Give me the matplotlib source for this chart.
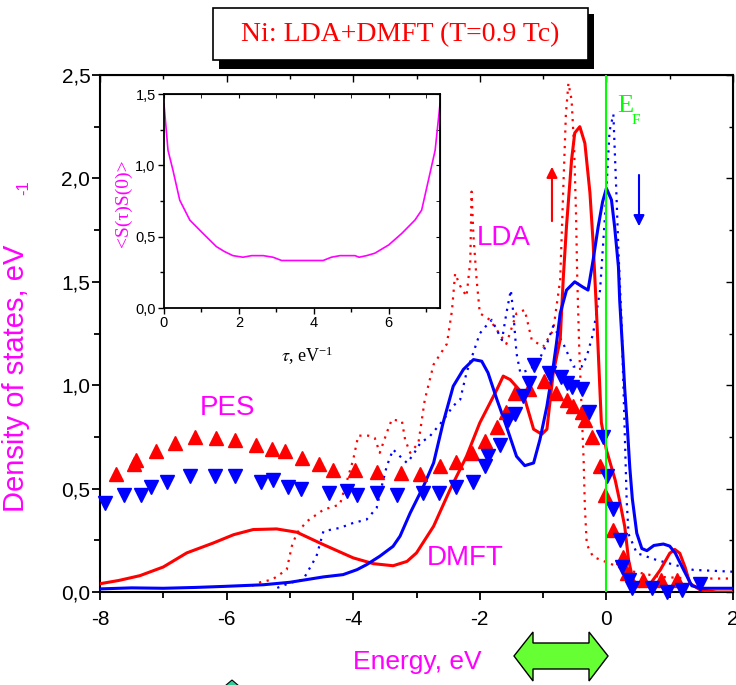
import matplotlib.pyplot as plt
from matplotlib.patches import Rectangle, Polygon
from matplotlib.ticker import MultipleLocator, FuncFormatter

# ---- data ----
# PES, spin up (red up-triangles)
pes_up_E = [-7.75, -7.47, -7.43, -7.12, -6.82, -6.50, -6.16, -5.87, -5.53, -5.29,
            -5.08, -4.81, -4.54, -4.32, -3.97, -3.62, -3.25, -2.95, -2.63, -2.38,
            -2.13, -1.92, -1.73, -1.59, -1.44, -1.23, -0.99, -0.79, -0.63, -0.52,
            -0.38, -0.34, -0.23, -0.10, -0.02, 0.10, 0.26, 0.32, 0.58, 0.86, 1.11]
pes_up = [0.57, 0.62, 0.64, 0.68, 0.72, 0.75, 0.745, 0.735, 0.71, 0.69,
          0.68, 0.65, 0.62, 0.59, 0.59, 0.58, 0.575, 0.57, 0.61, 0.63,
          0.67, 0.73, 0.80, 0.87, 0.96, 0.98, 1.02, 0.96, 0.93, 0.90,
          0.87, 0.83, 0.75, 0.61, 0.47, 0.30, 0.17, 0.09, 0.06, 0.06, 0.06]

# PES, spin down (blue down-triangles)
pes_dn_E = [-7.92, -7.62, -7.35, -7.20, -6.94, -6.58, -6.18, -5.87, -5.45, -5.27,
            -5.03, -4.82, -4.39, -4.10, -3.94, -3.62, -3.31, -2.89, -2.64, -2.38,
            -2.11, -1.92, -1.87, -1.68, -1.55, -1.44, -1.31, -1.23, -1.15, -0.90,
            -0.72, -0.63, -0.55, -0.38, -0.27, -0.06, 0.01, 0.10, 0.21, 0.24,
            0.35, 0.40, 0.72, 0.95, 1.20, 1.48]
pes_dn = [0.43, 0.47, 0.47, 0.51, 0.53, 0.56, 0.56, 0.56, 0.53, 0.54,
          0.51, 0.50, 0.48, 0.49, 0.47, 0.48, 0.47, 0.48, 0.48, 0.51,
          0.53, 0.61, 0.66, 0.71, 0.83, 0.86, 0.95, 1.01, 1.10, 1.06,
          1.04, 1.01, 0.99, 0.98, 0.87, 0.75, 0.56, 0.40, 0.25, 0.12,
          0.06, 0.02, 0.02, 0.00, 0.01, 0.04]

# LDA+DMFT, spin up (red solid)
dmft_up_E = [-8.0, -7.7, -7.37, -7.0, -6.63, -6.21, -5.89, -5.58, -5.21, -4.89,
             -4.47, -4.0, -3.68, -3.37, -3.15, -3.0, -2.73, -2.47, -2.21, -2.0,
             -1.73, -1.63, -1.52, -1.31, -1.15, -1.02, -0.94, -0.84, -0.73, -0.68,
             -0.63, -0.55, -0.50, -0.42, -0.34, -0.26, -0.21, -0.16, -0.12, -0.08,
             0.0, 0.14, 0.21, 0.29, 0.35, 0.42, 0.52, 0.68, 0.85, 1.0,
             1.08, 1.16, 1.24, 1.32, 1.48, 1.74, 2.0]
dmft_up = [0.04, 0.056, 0.079, 0.121, 0.189, 0.237, 0.277, 0.302, 0.305, 0.289,
           0.229, 0.165, 0.137, 0.127, 0.148, 0.189, 0.318, 0.495, 0.656, 0.818,
           0.979, 1.044, 1.027, 0.955, 0.787, 0.763, 0.787, 1.06, 1.22, 1.525,
           1.77, 2.09, 2.22, 2.25, 2.17, 1.93, 1.69, 1.38, 1.10, 0.82,
           0.687, 0.54, 0.44, 0.316, 0.155, 0.058, 0.026, 0.034, 0.106, 0.187,
           0.206, 0.187, 0.122, 0.042, 0.01, 0.0, 0.0]

# LDA+DMFT, spin down (blue solid)
dmft_dn_E = [-8.0, -7.5, -7.0, -6.5, -6.05, -5.42, -5.0, -4.47, -4.16, -3.94,
             -3.79, -3.58, -3.37, -3.26, -3.10, -2.89, -2.73, -2.58, -2.42, -2.26,
             -2.10, -1.97, -1.87, -1.73, -1.58, -1.42, -1.29, -1.15, -1.05, -0.94,
             -0.84, -0.79, -0.73, -0.63, -0.50, -0.38, -0.29, -0.21, -0.13, -0.06,
             0.0, 0.08, 0.13, 0.19, 0.21, 0.26, 0.29, 0.33, 0.37, 0.41,
             0.48, 0.56, 0.64, 0.75, 0.90, 1.0, 1.09, 1.22, 1.35, 1.5, 2.0]
dmft_dn = [0.015, 0.02, 0.018, 0.022, 0.027, 0.035, 0.047, 0.073, 0.084, 0.108,
           0.132, 0.173, 0.221, 0.27, 0.382, 0.511, 0.624, 0.818, 0.995, 1.076,
           1.124, 1.116, 1.06, 0.931, 0.802, 0.656, 0.611, 0.624, 0.737, 0.898,
           1.09, 1.20, 1.348, 1.46, 1.50, 1.476, 1.46, 1.605, 1.766, 1.887,
           1.952, 1.896, 1.766, 1.573, 1.41, 1.15, 0.98, 0.80, 0.60, 0.45,
           0.284, 0.21, 0.20, 0.225, 0.232, 0.222, 0.187, 0.107, 0.03, 0.018, 0.018]

# LDA, spin up (red dotted)
lda_up_E = [-5.6, -5.47, -5.28, -5.05, -4.97, -4.89, -4.73, -4.47, -4.21, -4.0,
            -3.92, -3.76, -3.66, -3.58, -3.47, -3.39, -3.23, -3.18, -3.10, -2.97,
            -2.87, -2.73, -2.52, -2.44, -2.39, -2.31, -2.21, -2.15, -2.13, -2.10,
            -2.05, -2.0, -1.84, -1.58, -1.42, -1.29, -1.18, -1.0, -0.84, -0.73,
            -0.68, -0.64, -0.60, -0.55, -0.51, -0.48, -0.46, -0.43, -0.40, -0.36,
            -0.34, -0.31, -0.21, 0.06, 0.32, 0.85, 1.37, 2.0]
lda_up = [0.03, 0.047, 0.06, 0.108, 0.221, 0.285, 0.342, 0.398, 0.423, 0.64,
          0.756, 0.756, 0.745, 0.673, 0.77, 0.834, 0.826, 0.737, 0.673, 0.72,
          0.928, 1.10, 1.20, 1.36, 1.54, 1.48, 1.43, 1.60, 1.936, 1.72,
          1.51, 1.348, 1.316, 1.20, 1.348, 1.364, 1.22, 1.186, 1.266, 1.51,
          1.96, 2.31, 2.46, 2.38, 2.15, 1.83, 1.51, 1.186, 0.95, 0.64,
          0.41, 0.23, 0.17, 0.137, 0.105, 0.073, 0.065, 0.065]

# LDA, spin down (blue dotted)
lda_dn_E = [-5.2, -5.0, -4.79, -4.58, -4.47, -4.21, -4.0, -3.79, -3.63, -3.55,
            -3.47, -3.37, -3.26, -3.15, -3.05, -2.94, -2.79, -2.58, -2.42, -2.31,
            -2.21, -2.0, -1.92, -1.81, -1.73, -1.65, -1.58, -1.51, -1.47, -1.42,
            -1.36, -1.26, -1.10, -0.94, -0.84, -0.68, -0.52, -0.39, -0.31, -0.21,
            -0.10, -0.02, 0.05, 0.11, 0.14, 0.16, 0.19, 0.24, 0.26, 0.29,
            0.32, 0.35, 0.48, 0.79, 1.37, 2.0]
lda_dn = [0.02, 0.044, 0.06, 0.173, 0.294, 0.31, 0.334, 0.35, 0.406, 0.511,
          0.608, 0.689, 0.656, 0.624, 0.665, 0.72, 0.753, 0.83, 0.90, 0.93,
          1.06, 1.25, 1.28, 1.316, 1.266, 1.218, 1.348, 1.46, 1.348, 1.154,
          1.06, 1.07, 1.10, 1.20, 1.286, 1.20, 1.09, 1.09, 1.14, 1.25,
          1.46, 1.83, 2.23, 2.31, 2.07, 1.91, 1.65, 1.30, 1.09, 0.77,
          0.445, 0.28, 0.188, 0.155, 0.107, 0.098]

# inset: spin correlation <S(tau)S(0)>
tau = [0.0, 0.107, 0.24, 0.42, 0.69, 1.04, 1.40, 1.62, 1.84, 2.11, 2.34, 2.65,
       2.91, 3.14, 4.25, 4.47, 4.70, 5.10, 5.21, 5.41, 5.63, 6.0, 6.35, 6.70,
       6.88, 7.06, 7.24, 7.37]
corr = [1.43, 1.105, 0.965, 0.756, 0.616, 0.523, 0.43, 0.395, 0.367, 0.356, 0.367, 0.367,
        0.356, 0.333, 0.333, 0.356, 0.367, 0.367, 0.356, 0.367, 0.384, 0.442, 0.523, 0.616,
        0.686, 0.895, 1.105, 1.43]

SERIF = ['Liberation Serif', 'DejaVu Serif']
plt.rcParams['font.family'] = ['Liberation Sans', 'DejaVu Sans']
plt.rcParams['axes.unicode_minus'] = False
plt.rcParams['mathtext.fontset'] = 'stix'

W, H = 736, 685


def fpx(x, y):
    # figure pixel (from top-left) -> figure fraction
    return (x / W, 1 - y / H)


comma = FuncFormatter(lambda v, p: f'{v:.1f}'.replace('.', ','))
plain = FuncFormatter(lambda v, p: f'{v:g}')

fig = plt.figure(figsize=(7.36, 6.85), dpi=100)

# ---- main axes ----
ax = fig.add_axes([100 / W, 1 - 592 / H, 633 / W, 517 / H])
ax.set_xlim(-8, 2)
ax.set_ylim(0, 2.5)

ax.plot(lda_up_E, lda_up, color='red', lw=1.6, ls=(0, (1, 2.5)), zorder=2)
ax.plot(lda_dn_E, lda_dn, color='blue', lw=1.6, ls=(0, (1, 2.5)), zorder=2)
ax.plot(dmft_up_E, dmft_up, color='red', lw=2.2, zorder=3)
ax.plot(dmft_dn_E, dmft_dn, color='blue', lw=2.2, zorder=3)
ax.plot(pes_up_E, pes_up, ls='none', marker='^', ms=10, color='red', clip_on=False, zorder=4)
ax.plot(pes_dn_E, pes_dn, ls='none', marker='v', ms=10, color='blue', clip_on=False, zorder=4)
ax.axvline(0, color='#00ff00', lw=1.5, zorder=5)

for s in ax.spines.values():
    s.set_linewidth(1.5)
ax.xaxis.set_major_locator(MultipleLocator(2))
ax.xaxis.set_minor_locator(MultipleLocator(1))
ax.yaxis.set_major_locator(MultipleLocator(0.5))
ax.yaxis.set_minor_locator(MultipleLocator(0.25))
ax.xaxis.set_major_formatter(plain)
ax.yaxis.set_major_formatter(comma)
ax.tick_params(which='both', direction='out', width=1.3, labelsize=15)
ax.tick_params(which='major', length=6)
ax.tick_params(which='minor', length=4)
ax.tick_params(axis='x', pad=7)
ax.tick_params(axis='y', pad=1)

top = ax.secondary_xaxis('top')
top.xaxis.set_major_locator(MultipleLocator(2))
top.xaxis.set_minor_locator(MultipleLocator(1))
top.tick_params(which='both', direction='in', labeltop=False, width=1.0)
top.tick_params(which='major', length=5)
top.tick_params(which='minor', length=3)
right = ax.secondary_yaxis('right')
right.yaxis.set_major_locator(MultipleLocator(0.5))
right.yaxis.set_minor_locator(MultipleLocator(0.25))
right.tick_params(which='both', direction='in', labelright=False, width=1.0)
right.tick_params(which='major', length=5)
right.tick_params(which='minor', length=3)

ax.set_ylabel('Density of states, eV', color='magenta', fontsize=21)
ax.yaxis.set_label_coords(-0.11, 0.414)
fig.text(*fpx(24, 188), '-1', color='magenta', fontsize=12, rotation=90,
         ha='center', va='center')
ax.set_xlabel('Energy, eV', color='magenta', fontsize=19)
ax.xaxis.set_label_coords(0.502, -0.112)

ax.text(-1.62, 1.71, 'LDA', color='magenta', fontsize=20, ha='center', va='center')
ax.text(-5.98, 0.89, 'PES', color='magenta', fontsize=20, ha='center', va='center')
ax.text(-2.23, 0.164, 'DMFT', color='magenta', fontsize=20, ha='center', va='center')

ax.text(0.17, 2.32, 'E', color='#00ff00', fontsize=19, family=SERIF, ha='left', va='baseline')
ax.text(0.40, 2.265, 'F', color='#00ff00', fontsize=11, family=SERIF, ha='left', va='baseline')

ax.annotate('', xy=(-0.86, 2.07), xytext=(-0.86, 1.78),
            arrowprops=dict(arrowstyle='-|>', color='red', lw=1.5, mutation_scale=16))
ax.annotate('', xy=(0.515, 1.755), xytext=(0.515, 2.03),
            arrowprops=dict(arrowstyle='-|>', color='blue', lw=1.5, mutation_scale=16))

# ---- title box with shadow ----
fig.patches.append(Rectangle(fpx(219, 69), 375 / W, 55 / H, transform=fig.transFigure,
                             facecolor='black', edgecolor='none', zorder=1))
fig.patches.append(Rectangle(fpx(213, 60), 375 / W, 52 / H, transform=fig.transFigure,
                             facecolor='white', edgecolor='black', lw=1.2, zorder=2))
fig.text(*fpx(400, 35), 'Ni: LDA+DMFT (T=0.9 Tc)', color='red', fontsize=20,
         family=SERIF, ha='center', va='center', zorder=3)

# ---- green double arrow under the axis ----
arrow_px = [(514, 656), (533, 632), (533, 643), (589, 643), (589, 632), (608, 656),
            (589, 681), (589, 669), (533, 669), (533, 681)]
fig.patches.append(Polygon([fpx(x, y) for x, y in arrow_px], closed=True,
                           transform=fig.transFigure, facecolor='#66ff33',
                           edgecolor='black', lw=1.0))
fig.patches.append(Polygon([fpx(232, 680), fpx(225, 686), fpx(239, 686)], closed=True,
                           transform=fig.transFigure, facecolor='#33cc99',
                           edgecolor='black', lw=0.8))

# ---- inset ----
ins = fig.add_axes([164 / W, 1 - 308 / H, 276 / W, 214 / H])
ins.plot(tau, corr, color='magenta', lw=1.2)
ins.set_xlim(0, 7.37)
ins.set_ylim(0, 1.5)
for s in ins.spines.values():
    s.set_linewidth(1.3)
ins.xaxis.set_major_locator(MultipleLocator(2))
ins.xaxis.set_minor_locator(MultipleLocator(1))
ins.yaxis.set_major_locator(MultipleLocator(0.5))
ins.yaxis.set_minor_locator(MultipleLocator(0.25))
ins.xaxis.set_major_formatter(plain)
ins.yaxis.set_major_formatter(comma)
ins.tick_params(which='both', direction='out', width=1.0, labelsize=10.5, pad=2)
ins.tick_params(which='major', length=4)
ins.tick_params(which='minor', length=3)
itop = ins.secondary_xaxis('top')
itop.xaxis.set_major_locator(MultipleLocator(2))
itop.xaxis.set_minor_locator(MultipleLocator(1))
itop.tick_params(which='both', direction='in', labeltop=False, length=3)
iright = ins.secondary_yaxis('right')
iright.yaxis.set_major_locator(MultipleLocator(0.5))
iright.yaxis.set_minor_locator(MultipleLocator(0.25))
iright.tick_params(which='both', direction='in', labelright=False, length=3)

ins.set_ylabel('<S(\u03c4)S(0)>', color='magenta', fontsize=14, family=SERIF)
ins.yaxis.set_label_coords(-0.115, 0.49)
ins.set_xlabel(r'$\tau$, eV$^{\mathregular{-1}}$', color='black', fontsize=13, family=SERIF)
ins.xaxis.set_label_coords(0.52, -0.17)

fig.savefig('out.png', dpi=100)
